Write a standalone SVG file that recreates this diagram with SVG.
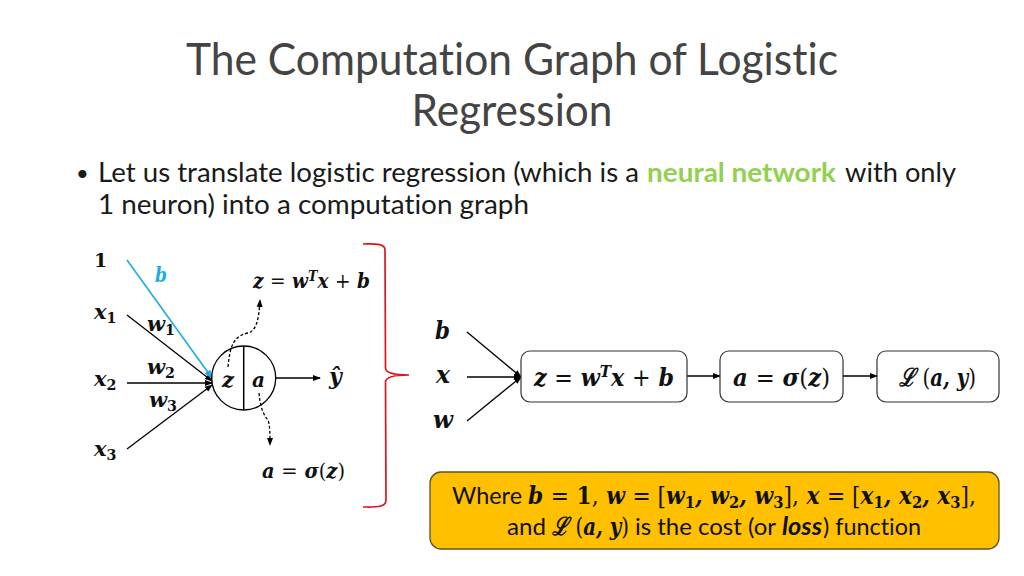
<svg xmlns="http://www.w3.org/2000/svg" width="1024" height="576" viewBox="0 0 1024 576">
<style>
text{fill:#111;white-space:pre}
.t{font-family:Lato,"Open Sans",sans-serif;font-weight:400;font-size:44px;text-anchor:middle;fill:#444;font-variant-ligatures:none}
.b{font-family:Lato,"Open Sans",sans-serif;font-size:27px;fill:#1a1a1a;font-variant-ligatures:none}
.y{font-family:Lato,"Open Sans",sans-serif;font-size:24px;fill:#111;font-variant-ligatures:none}
.m{font-family:"DejaVu Serif","Liberation Serif",serif;font-weight:bold;font-style:italic;font-size:21px}
.k{font-size:25px}
.u{font-style:normal}
.p{font-style:normal;font-weight:normal}
.s{font-size:68%}
.l{stroke:#000;stroke-width:1.3;fill:none}
.box{fill:#fff;stroke:#333;stroke-width:1.2}
</style>
<defs>
<marker id="ah" markerWidth="8" markerHeight="8" refX="7" refY="4" orient="auto" markerUnits="userSpaceOnUse"><path d="M0,1 L8,4 L0,7Z" fill="#000"/></marker>
<marker id="ab" markerWidth="9" markerHeight="8" refX="8" refY="4" orient="auto" markerUnits="userSpaceOnUse"><path d="M0,0.5 L9,4 L0,7.5Z" fill="#1CADE4"/></marker>
</defs>
<g id="title">
<text class="t" x="512" y="75" textLength="652" lengthAdjust="spacingAndGlyphs">The Computation Graph of Logistic</text>
<text class="t" x="512" y="126" textLength="201" lengthAdjust="spacingAndGlyphs">Regression</text>
</g>
<g id="body">
<text class="b" x="76" y="181" style="font-size:22px">•</text>
<text class="b" x="98" y="182" textLength="541" lengthAdjust="spacingAndGlyphs">Let us translate logistic regression (which is a</text>
<text class="b" x="647" y="182" textLength="189" lengthAdjust="spacingAndGlyphs" style="font-weight:bold;fill:#92D050">neural network</text>
<text class="b" x="845" y="182" textLength="111" lengthAdjust="spacingAndGlyphs">with only</text>
<text class="b" x="98" y="214" textLength="431" lengthAdjust="spacingAndGlyphs">1 neuron) into a computation graph</text>
</g>
<g id="connectors">
<path class="l" d="M127 315L212 381" marker-end="url(#ah)"/>
<path class="l" d="M127 383L212 383" marker-end="url(#ah)"/>
<path class="l" d="M127 449L212 385" marker-end="url(#ah)"/>
<path d="M127 260L212 378" stroke="#1CADE4" stroke-width="1.6" fill="none" marker-end="url(#ab)"/>
<path class="l" d="M276 378L320 378" marker-end="url(#ah)"/>
<path class="l" stroke-dasharray="3 2" d="M228 367C230 345 234 336 248 333C256 331 259 320 260 300" marker-end="url(#ah)"/>
<path class="l" stroke-dasharray="3 2" d="M259 393C260 405 263 415 268 420C270 425 270 435 270 445" marker-end="url(#ah)"/>
<path class="l" d="M467 332L521 377" marker-end="url(#ah)"/>
<path class="l" d="M467 377L521 377" marker-end="url(#ah)"/>
<path class="l" d="M467 421L521 377" marker-end="url(#ah)"/>
<path class="l" d="M687 376L720 376" marker-end="url(#ah)"/>
<path class="l" d="M843 376L877 376" marker-end="url(#ah)"/>
</g>
<g id="neuron">
<circle cx="243.7" cy="378" r="32" fill="none" stroke="#000" stroke-width="1.3"/>
<path d="M243.7 346V410" stroke="#000" stroke-width="1.5"/>
<text class="m" x="222" y="387" textLength="12" lengthAdjust="spacingAndGlyphs">z</text>
<text class="m" x="252" y="387" textLength="13" lengthAdjust="spacingAndGlyphs">a</text>
</g>
<g id="labels-left">
<text class="m u" x="94" y="267" style="font-size:19px">1</text>
<text class="m" x="155" y="282" style="fill:#1CADE4" textLength="12" lengthAdjust="spacingAndGlyphs">b</text>
<text class="m" x="94" y="319">x<tspan class="u s" dy="4">1</tspan></text>
<text class="m" x="94" y="386">x<tspan class="u s" dy="4">2</tspan></text>
<text class="m" x="94" y="456">x<tspan class="u s" dy="4">3</tspan></text>
<text class="m" x="147" y="331">w<tspan class="u s" dy="4">1</tspan></text>
<text class="m" x="147" y="374">w<tspan class="u s" dy="4">2</tspan></text>
<text class="m" x="149" y="407">w<tspan class="u s" dy="4">3</tspan></text>
<text class="m" x="329" y="384" style="font-size:22px">ŷ</text>
<text class="m" x="253" y="288" textLength="117" lengthAdjust="spacingAndGlyphs">z <tspan class="p">=</tspan> w<tspan dy="-7" class="s">T</tspan><tspan dy="7">x </tspan><tspan class="p">+</tspan> b</text>
<text class="m" x="262" y="478" textLength="83" lengthAdjust="spacingAndGlyphs">a <tspan class="p">=</tspan> σ<tspan class="p">(</tspan>z<tspan class="p">)</tspan></text>
</g>
<g id="brace">
<path d="M363 244C375 244 385 243 385 250L385.5 368C385.5 374 398 375 409 375C398 375 385.5 376 385.5 382L386 500C386 508 375 507 363 507" fill="none" stroke="#E0141E" stroke-width="1.7"/>
</g>
<g id="inputs">
<text class="m k" x="435" y="339" textLength="15" lengthAdjust="spacingAndGlyphs">b</text>
<text class="m k" x="436" y="383" textLength="14" lengthAdjust="spacingAndGlyphs">x</text>
<text class="m k" x="433" y="428" textLength="20" lengthAdjust="spacingAndGlyphs">w</text>
</g>
<g id="node-z">
<rect class="box" x="521" y="351" width="166" height="51" rx="9"/>
<text class="m k" x="534" y="386" textLength="140" lengthAdjust="spacingAndGlyphs">z <tspan class="p">=</tspan> w<tspan dy="-9" class="s">T</tspan><tspan dy="9">x </tspan><tspan class="p">+</tspan> b</text>
</g>
<g id="node-a">
<rect class="box" x="720" y="351" width="123" height="51" rx="9"/>
<text class="m k" x="733" y="386" textLength="97" lengthAdjust="spacingAndGlyphs">a <tspan class="p">=</tspan> σ<tspan class="p">(</tspan>z<tspan class="p">)</tspan></text>
</g>
<g id="node-l">
<rect class="box" x="877" y="351" width="122" height="51" rx="9"/>
<text class="m k" x="899" y="386" textLength="77" lengthAdjust="spacingAndGlyphs">ℒ <tspan class="p">(</tspan>a, y<tspan class="p">)</tspan></text>
</g>
<g id="note">
<rect x="430" y="472" width="569" height="77" rx="11" fill="#FFC000" stroke="#5f5320" stroke-width="1.3"/>
<text class="y" x="452" y="504" textLength="70" lengthAdjust="spacingAndGlyphs">Where</text>
<text class="m k" x="528" y="504" textLength="448" lengthAdjust="spacingAndGlyphs">b <tspan class="p">=</tspan> <tspan class="u">1</tspan><tspan class="p">,</tspan> w <tspan class="p">= [</tspan>w<tspan class="u s" dy="4">1</tspan><tspan dy="-4">, w</tspan><tspan class="u s" dy="4">2</tspan><tspan dy="-4">, w</tspan><tspan class="u s" dy="4">3</tspan><tspan dy="-4" class="p">],</tspan> x <tspan class="p">= [</tspan>x<tspan class="u s" dy="4">1</tspan><tspan dy="-4">, x</tspan><tspan class="u s" dy="4">2</tspan><tspan dy="-4">, x</tspan><tspan class="u s" dy="4">3</tspan><tspan dy="-4" class="p">],</tspan></text>
<text class="y" x="507" y="535" textLength="39" lengthAdjust="spacingAndGlyphs">and</text>
<text class="m k" x="552" y="535" textLength="77" lengthAdjust="spacingAndGlyphs">ℒ <tspan class="p">(</tspan>a, y<tspan class="p">)</tspan></text>
<text class="y" x="635" y="535" textLength="141" lengthAdjust="spacingAndGlyphs">is the cost (or</text>
<text class="y" x="782" y="535" textLength="40" lengthAdjust="spacingAndGlyphs" style="font-weight:bold;font-style:italic">loss</text>
<text class="y" x="823" y="535" textLength="98" lengthAdjust="spacingAndGlyphs">) function</text>
</g>
</svg>
